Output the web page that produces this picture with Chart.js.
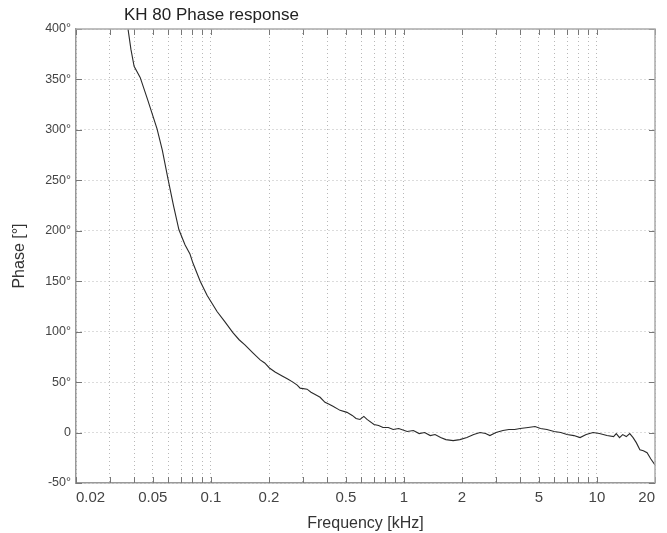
<!DOCTYPE html>
<html>
<head>
<meta charset="utf-8">
<script src="https://cdn.jsdelivr.net/npm/chart.js@4/dist/chart.umd.min.js"></script>
<style>
  body { margin: 0; background: #fff; }
  #wrap { width: 667px; height: 533px; }
</style>
</head>
<body>
<div id="wrap"><canvas id="phase" width="667" height="533"></canvas></div>
<script>
// frequency in kHz, phase in degrees
const freqKHz = [0.035, 0.0372, 0.0385, 0.040, 0.043, 0.047, 0.0526, 0.056, 0.060, 0.064,
  0.0683, 0.0735, 0.0779, 0.0807, 0.088, 0.0955, 0.1076, 0.118, 0.130, 0.14,
  0.150, 0.165, 0.180, 0.19, 0.201, 0.215, 0.234, 0.25, 0.266, 0.28,
  0.29, 0.315, 0.33, 0.345, 0.368, 0.39, 0.41, 0.429, 0.467, 0.507,
  0.54, 0.565, 0.592, 0.62, 0.644, 0.70, 0.74, 0.779, 0.83, 0.88,
  0.94, 1.04, 1.12, 1.2, 1.28, 1.37, 1.45, 1.55, 1.65, 1.80,
  1.95, 2.12, 2.3, 2.48, 2.65, 2.79, 3.0, 3.26, 3.5, 3.75,
  4.0, 4.4, 4.78, 5.1, 5.51, 6.0, 6.5, 7.0, 7.6, 8.18,
  8.8, 9.55, 10.3, 11.28, 12.2, 12.6, 13.1, 13.6, 14.2, 14.8,
  15.4, 16.0, 16.7, 17.4, 18.2, 19.0, 20];
const phaseDeg = [430, 400, 380, 363, 352, 330, 301, 280, 251, 225,
  201, 186, 177, 168, 150, 136, 120, 110, 99, 92,
  87, 79, 72, 69, 64, 60, 56, 53, 50, 47,
  44, 43, 40, 38, 35, 30, 28, 26, 22, 20,
  17, 14, 13, 16, 13, 8, 7, 5, 5, 3,
  4, 1, 2, -1, 0, -3, -2, -5, -7, -8,
  -7, -5, -2, 0, -1, -3, 0, 2, 3, 3,
  4, 5, 6, 4, 3, 1, 0, -2, -3, -5,
  -2, 0, -1, -3, -4, -1, -5, -2, -4, -1,
  -5, -10, -17, -18, -20, -26, -32];

const xGridTicks = [0.02, 0.03, 0.04, 0.05, 0.06, 0.07, 0.08, 0.09,
  0.1, 0.2, 0.3, 0.4, 0.5, 0.6, 0.7, 0.8, 0.9,
  1, 2, 3, 4, 5, 6, 7, 8, 9, 10, 20];
const xLabelTicks = [0.02, 0.05, 0.1, 0.2, 0.5, 1, 2, 5, 10, 20];
const yMin = -50, yMax = 400, yStep = 50;

const points = freqKHz.map((f, i) => ({ x: f, y: phaseDeg[i] }));

// MATLAB-ish frame: inward tick marks, top/right border, left-ish title
const framePlugin = {
  id: 'frame',
  afterDatasetsDraw(chart) {
    const { ctx, chartArea: a, scales } = chart;
    ctx.save();
    ctx.strokeStyle = '#777';
    ctx.lineWidth = 1;
    ctx.beginPath();
    xGridTicks.forEach(v => {
      const px = Math.round(scales.x.getPixelForValue(v)) + 0.5;
      ctx.moveTo(px, a.bottom); ctx.lineTo(px, a.bottom - 6);
      ctx.moveTo(px, a.top); ctx.lineTo(px, a.top + 6);
    });
    for (let v = yMin; v <= yMax; v += yStep) {
      const py = Math.round(scales.y.getPixelForValue(v)) + 0.5;
      ctx.moveTo(a.left, py); ctx.lineTo(a.left + 6, py);
      ctx.moveTo(a.right, py); ctx.lineTo(a.right - 6, py);
    }
    ctx.stroke();
    ctx.strokeStyle = '#aaa';
    ctx.lineWidth = 1.5;
    ctx.beginPath();
    ctx.moveTo(a.left, a.top); ctx.lineTo(a.right, a.top); ctx.lineTo(a.right, a.bottom);
    ctx.stroke();
    ctx.fillStyle = '#222';
    ctx.font = '17px "Liberation Sans", Arial, sans-serif';
    ctx.textBaseline = 'middle';
    ctx.textAlign = 'left';
    ctx.fillText('KH 80 Phase response', 124, 15);
    ctx.restore();
  }
};

new Chart(document.getElementById('phase'), {
  type: 'scatter',
  data: {
    datasets: [{
      data: points,
      showLine: true,
      borderColor: '#2a2a2a',
      borderWidth: 1.1,
      pointRadius: 0,
      tension: 0
    }]
  },
  options: {
    responsive: false,
    animation: false,
    layout: { padding: { top: 29, right: 12, left: 0, bottom: 0 } },
    plugins: { legend: { display: false }, tooltip: { enabled: false } },
    scales: {
      x: {
        type: 'logarithmic',
        min: 0.02,
        max: 20,
        afterBuildTicks: s => { s.ticks = xGridTicks.map(v => ({ value: v })); },
        afterFit: s => { s.height = 50; },
        border: { color: '#999', width: 1.5, dash: [1, 3] },
        grid: { color: '#b8b8b8', drawTicks: false },
        ticks: {
          autoSkip: false,
          maxRotation: 0,
          align: 'inner',
          padding: 6,
          color: '#444',
          font: { family: '"Liberation Sans", Arial, sans-serif', size: 15 },
          callback: v => xLabelTicks.includes(v) ? String(v) : ''
        },
        title: {
          display: true,
          text: 'Frequency [kHz]',
          color: '#333',
          padding: { top: 0, bottom: 0 },
          font: { family: '"Liberation Sans", Arial, sans-serif', size: 16 }
        }
      },
      y: {
        min: yMin,
        max: yMax,
        afterFit: s => { s.width = 76; },
        border: { color: '#999', width: 1.5, dash: [1, 3] },
        grid: { color: '#b8b8b8', drawTicks: false },
        ticks: {
          stepSize: yStep,
          padding: 5,
          color: '#444',
          font: { family: '"Liberation Sans", Arial, sans-serif', size: 12.5 },
          callback: v => v === 0 ? '0' : v + '°'
        },
        title: {
          display: true,
          text: 'Phase [°]',
          color: '#333',
          padding: { top: 10, bottom: 4 },
          font: { family: '"Liberation Sans", Arial, sans-serif', size: 16 }
        }
      }
    }
  },
  plugins: [framePlugin]
});
</script>
</body>
</html>
